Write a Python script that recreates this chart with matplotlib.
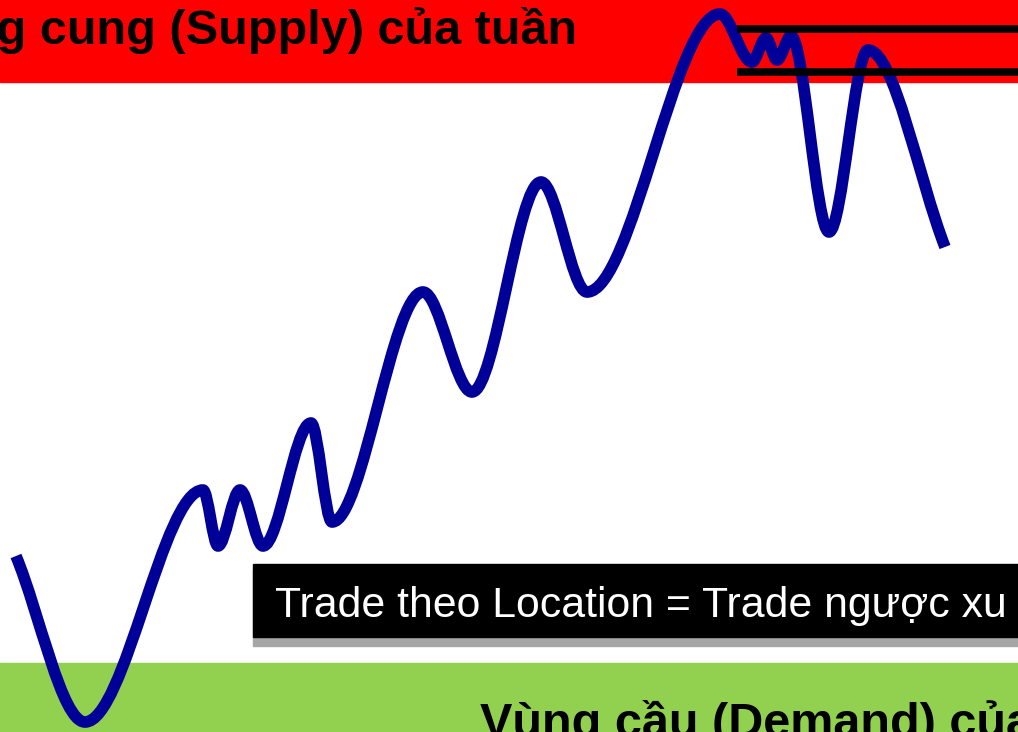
import matplotlib
matplotlib.use("Agg")
import matplotlib.pyplot as plt
from matplotlib.path import Path
from matplotlib.patches import PathPatch, Rectangle
from matplotlib.font_manager import FontProperties

# ---- data: turning points of the price path (pixel-like coords, y down) ----
wave_x = [16, 85, 203, 218, 240, 263, 311, 332, 423, 472, 541, 587, 720, 752, 766, 777, 791, 829, 868, 945]
wave_y = [556, 722, 490, 546, 490, 546, 423, 522, 292, 392, 182, 292, 14, 62, 38, 60, 36, 232, 50, 247]

supply_text = "Vùng cung (Supply) của tuần"
demand_text = "Vùng cầu (Demand) của tuần"
note_text = "Trade theo Location = Trade ngược xu"

W, H = 1018, 732
fig = plt.figure(figsize=(W / 100, H / 100), dpi=100)
ax = fig.add_axes([0, 0, 1, 1])
ax.set_xlim(0, W)
ax.set_ylim(H, 0)
ax.axis("off")

# zones
ax.add_patch(Rectangle((0, 0), W, 82, color="#FF0000", zorder=1))
ax.add_patch(Rectangle((0, 663), W, H - 663, color="#92D050", zorder=1))

# price path built from Bezier segments through turning points
k = 0.34
verts = [(wave_x[0], wave_y[0])]
codes = [Path.MOVETO]
n = len(wave_x)
for i in range(n - 1):
    x0, y0, x1, y1 = wave_x[i], wave_y[i], wave_x[i + 1], wave_y[i + 1]
    dx, dy = x1 - x0, y1 - y0
    c1 = (x0 + k * dx, y0 + k * dy) if i == 0 else (x0 + k * dx, y0)
    c2 = (x1 - k * dx, y1 - k * dy) if i + 1 == n - 1 else (x1 - k * dx, y1)
    verts += [c1, c2, (x1, y1)]
    codes += [Path.CURVE4] * 3
ax.add_patch(PathPatch(Path(verts, codes), fill=False, edgecolor="#000099",
                       lw=8.4, capstyle="butt", joinstyle="round", zorder=3))

# resistance lines
ax.plot([737, W], [29, 29], color="black", lw=5.5, solid_capstyle="butt", zorder=4)
ax.plot([737, W], [71.5, 71.5], color="black", lw=5.5, solid_capstyle="butt", zorder=4)

# zone labels
ax.text(577, 44, supply_text, ha="right", va="baseline", fontsize=35,
        fontweight="bold", family="Liberation Sans", color="black", zorder=5)
ax.text(480, 737, demand_text, ha="left", va="baseline", fontsize=35,
        fontweight="bold", family="Liberation Sans", color="black", zorder=5)

# note box with shadow
ax.add_patch(Rectangle((253, 570), W, 76, color="#A6A6A6", zorder=5))
ax.add_patch(Rectangle((253, 564), W, 73, color="black", zorder=6))
fp = FontProperties(family="Liberation Sans", size=30)
t = ax.text(275, 617, note_text, ha="left", va="baseline", fontproperties=fp,
            color="white", zorder=7)
renderer = fig.canvas.get_renderer()
wpx = t.get_window_extent(renderer).width
fp.set_size(30 * 730 / wpx)
t.set_fontproperties(fp)

fig.savefig("out.png", dpi=100)
